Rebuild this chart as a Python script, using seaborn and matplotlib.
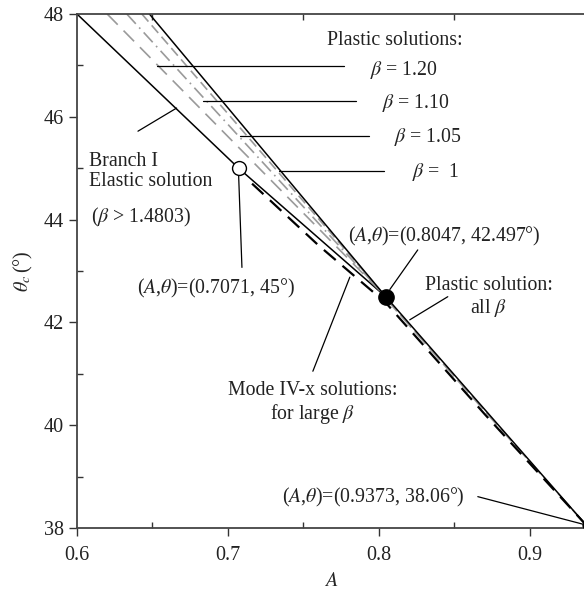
import matplotlib
matplotlib.use("Agg")
import matplotlib.pyplot as plt
import seaborn as sns
import pandas as pd

# ---- data ----
elastic_A = [0.6, 0.7071, 0.8047]
elastic_theta = [48.0, 45.0, 42.497]

plastic_all_A = [0.8047, 0.9373]
plastic_all_theta = [42.497, 38.06]

beta_labels = ["1.20", "1.10", "1.05", "1"]
beta_start_A = [0.620, 0.633, 0.643, 0.648]   # at theta = 48
beta_start_theta = [48.0, 48.0, 48.0, 48.0]
meet_A, meet_theta = 0.8047, 42.497

mode4_A = [0.716, 0.76, 0.8047, 0.87, 0.9373]
mode4_theta = [44.70, 43.50, 42.38, 40.22, 38.06]

gray_tail_A = [0.8047, 0.87, 0.9373]
gray_tail_theta = [42.46, 40.28, 38.06]

open_pt = (0.7071, 45.0)
filled_pt = (0.8047, 42.497)
end_pt = (0.9373, 38.06)

x_ticks = [0.6, 0.7, 0.8, 0.9]
y_ticks = [38, 40, 42, 44, 46, 48]

sns.set_style("ticks")
plt.rcParams["font.family"] = ["Liberation Serif", "DejaVu Serif"]
plt.rcParams["mathtext.fontset"] = "stix"

fig = plt.figure(figsize=(5.84, 5.92), dpi=100)
ax = fig.add_axes([77 / 584, 1 - 528 / 592, 509 / 584, 514 / 592])

df_el = pd.DataFrame({"A": elastic_A, "theta": elastic_theta})
sns.lineplot(data=df_el, x="A", y="theta", ax=ax, color="black", lw=1.1, sort=False)

df_pa = pd.DataFrame({"A": plastic_all_A, "theta": plastic_all_theta})

styles = {
    "1.20": dict(color="#9a9a9a", dashes=(9, 5), lw=1.2),
    "1.10": dict(color="#9a9a9a", dashes=(8, 3, 1, 3), lw=1.2),
    "1.05": dict(color="#9a9a9a", dashes=(6, 3), lw=1.2),
    "1": dict(color="black", dashes=None, lw=1.1),
}
for lab, a0, t0 in zip(beta_labels, beta_start_A, beta_start_theta):
    d = pd.DataFrame({"A": [a0, meet_A], "theta": [t0, meet_theta]})
    st = styles[lab]
    sns.lineplot(data=d, x="A", y="theta", ax=ax, color=st["color"], lw=st["lw"], sort=False)
    if st["dashes"]:
        ax.lines[-1].set_dashes(st["dashes"])

d_tail = pd.DataFrame({"A": gray_tail_A, "theta": gray_tail_theta})
sns.lineplot(data=d_tail, x="A", y="theta", ax=ax, color="#9a9a9a", lw=1.2, sort=False)
ax.lines[-1].set_dashes((10, 3))

sns.lineplot(data=df_pa, x="A", y="theta", ax=ax, color="black", lw=1.1, sort=False)

d_m4 = pd.DataFrame({"A": mode4_A, "theta": mode4_theta})
sns.lineplot(data=d_m4, x="A", y="theta", ax=ax, color="black", lw=1.6, sort=False)
ax.lines[-1].set_dashes((7, 4))

ax.plot(*open_pt, "o", ms=10, mfc="white", mec="black", mew=1.0, zorder=5, clip_on=False)
ax.plot(*filled_pt, "o", ms=11, mfc="black", mec="black", zorder=5)
ax.plot(*end_pt, "o", ms=5, mfc="black", mec="black", zorder=5, clip_on=False)

ax.set_xlim(0.6, 0.9373)
ax.set_ylim(38, 48)
ax.set_xticks(x_ticks)
ax.set_xticklabels(["0.6", "0.7", "0.8", "0.9"])
ax.set_yticks(y_ticks)
ax.set_xticks([0.65, 0.75, 0.85], minor=True)
ax.set_yticks([39, 41, 43, 45, 47], minor=True)
ax.tick_params(axis="both", which="major", direction="out", length=6, width=1.0,
               labelsize=14.5, colors="#333333", labelcolor="#222222")
ax.tick_params(axis="x", which="major", pad=7)
ax.tick_params(axis="both", which="minor", direction="in", length=4, width=1.0,
               top=True, colors="#333333")
ax.tick_params(axis="x", which="major", top=False)
for s in ["left", "bottom", "top"]:
    ax.spines[s].set_color("#444444")
    ax.spines[s].set_linewidth(1.3)
ax.spines["right"].set_visible(False)

ax.set_xlabel("$A$", fontsize=14.5, labelpad=5)
ax.set_ylabel(r"$\theta_c\,$(°)", fontsize=14.5, labelpad=6)

fs = 14.3
kw = dict(fontsize=fs, color="#222222")
ax.text(0.8106, 47.49, "Plastic solutions:", ha="center", va="center", **kw)
beta_txt_pos = [(0.794, 46.91), (0.802, 46.27), (0.810, 45.61), (0.822, 44.93)]
beta_lead = [((0.653, 0.777), 46.99), ((0.6834, 0.785), 46.31),
             ((0.708, 0.7935), 45.63), ((0.734, 0.8033), 44.95)]
for lab, (tx, ty), ((x0, x1), y) in zip(beta_labels, beta_txt_pos, beta_lead):
    t = r"$\beta$ = " + lab if lab != "1" else r"$\beta$ =  1"
    ax.text(tx, ty, t, ha="left", va="center", **kw)
    ax.plot([x0, x1], [y, y], color="black", lw=0.9)

ax.text(0.608, 44.93, "Branch I\nElastic solution", ha="left", va="center",
        linespacing=1.1, **kw)
ax.text(0.6095, 44.05, r"($\beta$ > 1.4803)", ha="left", va="center", **kw)
ax.plot([0.6404, 0.666], [45.72, 46.17], color="black", lw=0.9)

ax.text(0.6395, 42.66, r"($A$,$\theta$)=(0.7071, 45°)", ha="left", va="center", **kw)
ax.plot([0.7071, 0.7093], [44.87, 43.07], color="black", lw=0.9)

ax.text(0.7795, 43.68, r"($A$,$\theta$)=(0.8047, 42.497°)", ha="left", va="center", **kw)
ax.plot([0.8258, 0.8073], [43.41, 42.64], color="black", lw=0.9)

ax.text(0.8728, 42.49, "Plastic solution:\nall $\\beta$", ha="center", va="center",
        linespacing=1.1, **kw)
ax.plot([0.8457, 0.8205], [42.5, 42.05], color="black", lw=0.9)

ax.text(0.756, 40.42, "Mode IV-x solutions:\nfor large $\\beta$", ha="center", va="center",
        linespacing=1.1, **kw)
ax.plot([0.7808, 0.7563], [42.88, 41.05], color="black", lw=0.9)

ax.text(0.7358, 38.59, r"($A$,$\theta$)=(0.9373, 38.06°)", ha="left", va="center", **kw)
ax.plot([0.8656, 0.9358], [38.61, 38.07], color="black", lw=0.9)

fig.savefig("out.png", dpi=100)
